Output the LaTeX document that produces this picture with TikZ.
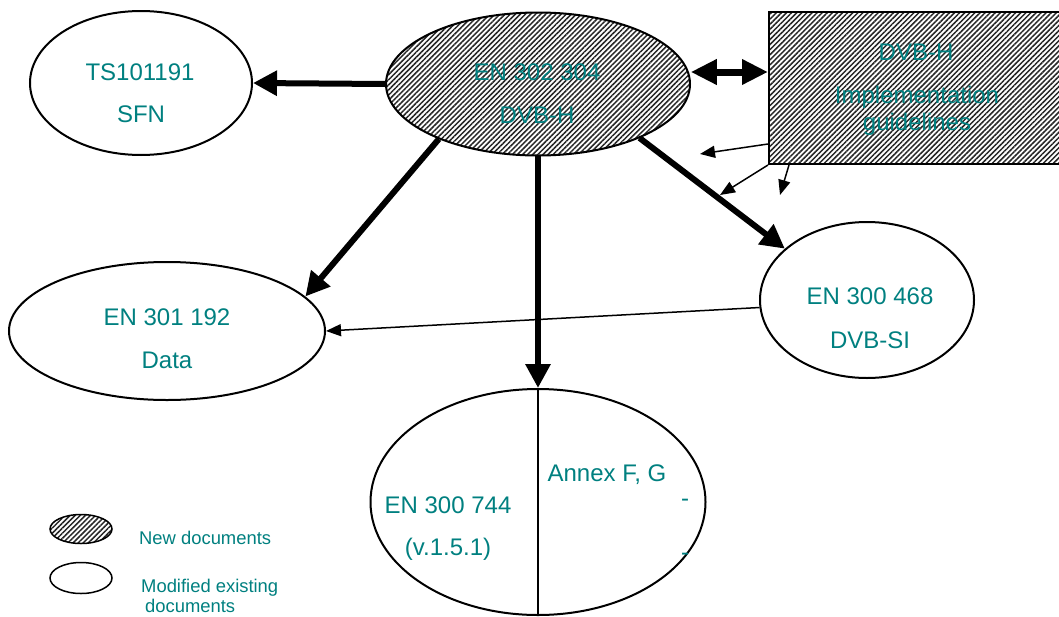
\documentclass[tikz,border=0pt]{standalone}
\usepackage{fontspec}
\setmainfont{Liberation Sans}
\usetikzlibrary{arrows.meta,shapes.geometric,patterns.meta}
\definecolor{teal}{RGB}{0,128,128}
\begin{document}
\begin{tikzpicture}[x=1pt,y=-1pt,
  doc/.style={draw=black,line width=2pt,ellipse,inner sep=0pt},
  newdoc/.style={doc,pattern={Lines[angle=45,distance=3.6pt,line width=1.5pt]},pattern color=black!85},
  lbl/.style={text=teal,font=\fontsize{24}{28}\selectfont,inner sep=0pt,anchor=center},
  leg/.style={text=teal,font=\fontsize{18.4}{21}\selectfont,inner sep=0pt,anchor=west},
  big/.style={line width=6pt,-{Triangle[length=24pt,width=24pt]}},
  dbl/.style={line width=7pt,{Triangle[length=26pt,width=24pt]}-{Triangle[length=26pt,width=24pt]}},
  thin/.style={line width=1.5pt,-{Triangle[length=15pt,width=12pt]}}]
\clip (0,0) rectangle (1059,616);
\fill[white] (0,0) rectangle (1059,616);
% nodes
\node[doc,minimum width=222pt,minimum height=144pt] (ts) at (141,83) {};
\node[newdoc,minimum width=304pt,minimum height=143pt] (en302) at (538,84) {};
\node[draw=black,line width=2pt,rectangle,inner sep=0pt,minimum width=311pt,minimum height=152pt,
      pattern={Lines[angle=45,distance=3.6pt,line width=1.5pt]},pattern color=black!85] (impl) at (924.5,88) {};
\node[doc,minimum width=316pt,minimum height=138pt] (en301) at (167,331) {};
\node[doc,minimum width=214pt,minimum height=156pt] (en468) at (867,300) {};
\node[doc,minimum width=335pt,minimum height=226pt] (en744) at (538,502) {};
\draw[line width=2pt] (en744.north) -- (en744.south);
% labels
\node[lbl] (t1) at (140,72) {TS101191};
\node[lbl] (t2) at (141,114) {SFN};
\node[lbl] (t3) at (537,72) {EN 302 304};
\node[lbl] (t4) at (537,115) {DVB-H};
\node[lbl] (t5) at (916,52) {DVB-H};
\node[lbl] (t6) at (917,97) {Implementation};
\node[lbl] (t7) at (917,124) {guidelines};
\node[lbl] (t8) at (167,317) {EN 301 192};
\node[lbl] (t9) at (167,360) {Data};
\node[lbl] (t10) at (870,296) {EN 300 468};
\node[lbl] (t11) at (870,340) {DVB-SI};
\node[lbl] (t12) at (448,505) {EN 300 744};
\node[lbl] (t13) at (448,549) {(v.1.5.1)};
\node[lbl] (t14) at (607,475) {Annex F, G};
\node[lbl] (t15) at (685,503) {-};
\node[lbl] (t16) at (685,557) {-};
% legend
\node[newdoc,line width=1.5pt,minimum width=62pt,minimum height=29pt] (l1) at (81,529) {};
\node[doc,line width=1.5pt,minimum width=62pt,minimum height=31pt] (l2) at (81,578) {};
\node[leg] (lt1) at (139,538) {New documents};
\node[leg] (lt2) at (141,588) {Modified existing};
\node[leg] (lt3) at (145,606) {documents};
% connectors
\draw[big] (en302.west) -- (ts.east);
\draw[dbl] ([yshift=12pt]en302.east) -- ([yshift=12pt]en302.east -| impl.west);
\draw[big] (en302.209) -- (en301.14.6);
\draw[big] (en302.south) -- (en744.north);
\draw[big] (en302.332) -- (en468.148);
\draw[thin] (en468.184.8) -- (en301.east);
\coordinate (c1) at (700,154);
\coordinate (c2) at (720,195);
\coordinate (c3) at (780,195);
\draw[thin] ([yshift=-56pt]impl.west) -- (c1);
\draw[thin] (impl.south west) -- (c2);
\draw[thin] ([xshift=21pt]impl.south west) -- (c3);
\end{tikzpicture}
\end{document}
